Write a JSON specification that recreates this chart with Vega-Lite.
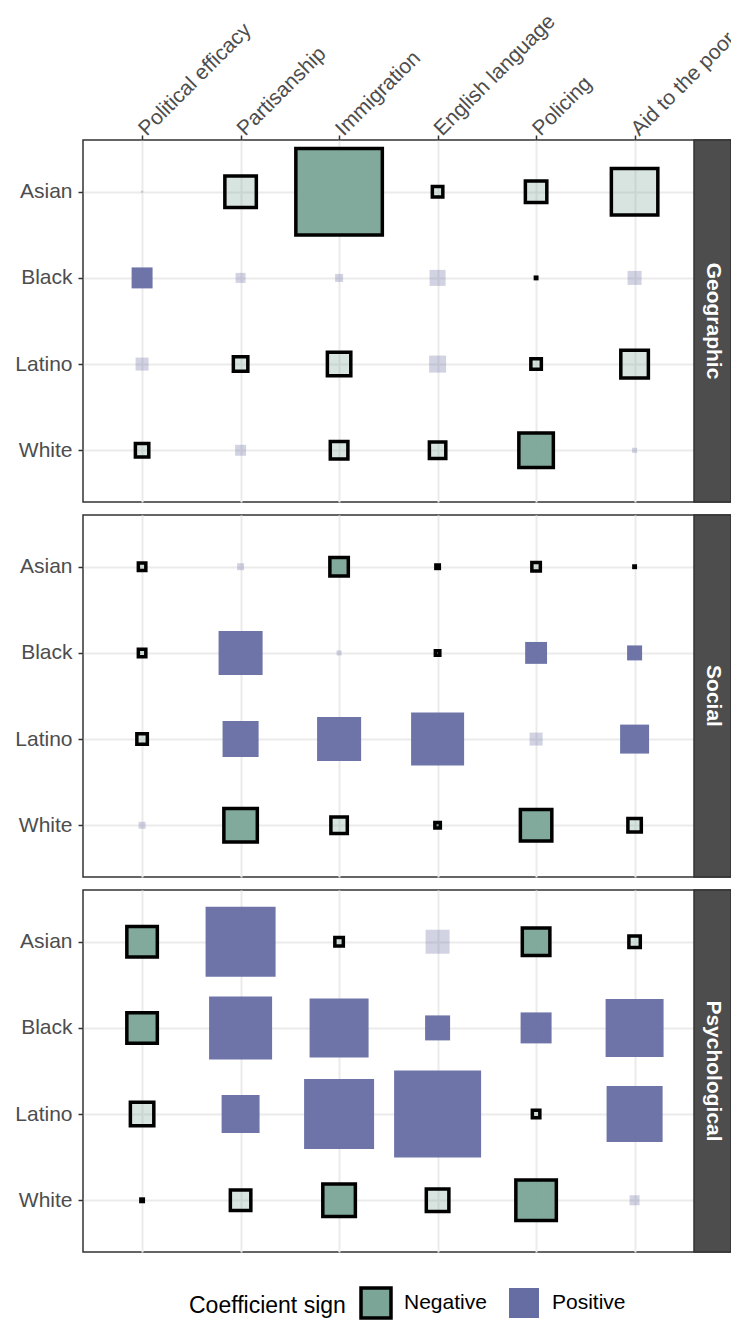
{
  "$schema": "https://vega.github.io/schema/vega-lite/v6.json",
  "padding": {"left": 14, "top": 9, "right": 0, "bottom": 0},
  "background": "white",
  "data": {"values": [
    {"panel":"Geographic","race":"Asian","topic":"Political efficacy","sign":"Positive","sig":"no","m":0.0005},
    {"panel":"Geographic","race":"Asian","topic":"Partisanship","sign":"Negative","sig":"no","m":0.099},
    {"panel":"Geographic","race":"Asian","topic":"Immigration","sign":"Negative","sig":"yes","m":0.748},
    {"panel":"Geographic","race":"Asian","topic":"English language","sign":"Negative","sig":"no","m":0.011},
    {"panel":"Geographic","race":"Asian","topic":"Policing","sign":"Negative","sig":"no","m":0.046},
    {"panel":"Geographic","race":"Asian","topic":"Aid to the poor","sign":"Negative","sig":"no","m":0.216},
    {"panel":"Geographic","race":"Black","topic":"Political efficacy","sign":"Positive","sig":"yes","m":0.044},
    {"panel":"Geographic","race":"Black","topic":"Partisanship","sign":"Positive","sig":"no","m":0.010},
    {"panel":"Geographic","race":"Black","topic":"Immigration","sign":"Positive","sig":"no","m":0.0064},
    {"panel":"Geographic","race":"Black","topic":"English language","sign":"Positive","sig":"no","m":0.0256},
    {"panel":"Geographic","race":"Black","topic":"Policing","sign":"Negative","sig":"yes","m":0.0002},
    {"panel":"Geographic","race":"Black","topic":"Aid to the poor","sign":"Positive","sig":"no","m":0.0196},
    {"panel":"Geographic","race":"Latino","topic":"Political efficacy","sign":"Positive","sig":"no","m":0.0169},
    {"panel":"Geographic","race":"Latino","topic":"Partisanship","sign":"Negative","sig":"no","m":0.021},
    {"panel":"Geographic","race":"Latino","topic":"Immigration","sign":"Negative","sig":"no","m":0.055},
    {"panel":"Geographic","race":"Latino","topic":"English language","sign":"Positive","sig":"no","m":0.029},
    {"panel":"Geographic","race":"Latino","topic":"Policing","sign":"Negative","sig":"no","m":0.011},
    {"panel":"Geographic","race":"Latino","topic":"Aid to the poor","sign":"Negative","sig":"no","m":0.076},
    {"panel":"Geographic","race":"White","topic":"Political efficacy","sign":"Negative","sig":"no","m":0.018},
    {"panel":"Geographic","race":"White","topic":"Partisanship","sign":"Positive","sig":"no","m":0.012},
    {"panel":"Geographic","race":"White","topic":"Immigration","sign":"Negative","sig":"no","m":0.031},
    {"panel":"Geographic","race":"White","topic":"English language","sign":"Negative","sig":"no","m":0.027},
    {"panel":"Geographic","race":"White","topic":"Policing","sign":"Negative","sig":"yes","m":0.119},
    {"panel":"Geographic","race":"White","topic":"Aid to the poor","sign":"Positive","sig":"no","m":0.0025},
    {"panel":"Social","race":"Asian","topic":"Political efficacy","sign":"Negative","sig":"no","m":0.0056},
    {"panel":"Social","race":"Asian","topic":"Partisanship","sign":"Positive","sig":"no","m":0.0049},
    {"panel":"Social","race":"Asian","topic":"Immigration","sign":"Negative","sig":"yes","m":0.034},
    {"panel":"Social","race":"Asian","topic":"English language","sign":"Negative","sig":"yes","m":0.0012},
    {"panel":"Social","race":"Asian","topic":"Policing","sign":"Negative","sig":"no","m":0.0072},
    {"panel":"Social","race":"Asian","topic":"Aid to the poor","sign":"Negative","sig":"yes","m":0.0002},
    {"panel":"Social","race":"Black","topic":"Political efficacy","sign":"Negative","sig":"no","m":0.0056},
    {"panel":"Social","race":"Black","topic":"Partisanship","sign":"Positive","sig":"yes","m":0.194},
    {"panel":"Social","race":"Black","topic":"Immigration","sign":"Positive","sig":"no","m":0.0025},
    {"panel":"Social","race":"Black","topic":"English language","sign":"Negative","sig":"yes","m":0.002},
    {"panel":"Social","race":"Black","topic":"Policing","sign":"Positive","sig":"yes","m":0.048},
    {"panel":"Social","race":"Black","topic":"Aid to the poor","sign":"Positive","sig":"yes","m":0.0225},
    {"panel":"Social","race":"Latino","topic":"Political efficacy","sign":"Negative","sig":"no","m":0.011},
    {"panel":"Social","race":"Latino","topic":"Partisanship","sign":"Positive","sig":"yes","m":0.13},
    {"panel":"Social","race":"Latino","topic":"Immigration","sign":"Positive","sig":"yes","m":0.194},
    {"panel":"Social","race":"Latino","topic":"English language","sign":"Positive","sig":"yes","m":0.281},
    {"panel":"Social","race":"Latino","topic":"Policing","sign":"Positive","sig":"no","m":0.017},
    {"panel":"Social","race":"Latino","topic":"Aid to the poor","sign":"Positive","sig":"yes","m":0.084},
    {"panel":"Social","race":"White","topic":"Political efficacy","sign":"Positive","sig":"no","m":0.0049},
    {"panel":"Social","race":"White","topic":"Partisanship","sign":"Negative","sig":"yes","m":0.112},
    {"panel":"Social","race":"White","topic":"Immigration","sign":"Negative","sig":"no","m":0.027},
    {"panel":"Social","race":"White","topic":"English language","sign":"Negative","sig":"yes","m":0.003},
    {"panel":"Social","race":"White","topic":"Policing","sign":"Negative","sig":"yes","m":0.099},
    {"panel":"Social","race":"White","topic":"Aid to the poor","sign":"Negative","sig":"no","m":0.018},
    {"panel":"Psychological","race":"Asian","topic":"Political efficacy","sign":"Negative","sig":"yes","m":0.093},
    {"panel":"Psychological","race":"Asian","topic":"Partisanship","sign":"Positive","sig":"yes","m":0.49},
    {"panel":"Psychological","race":"Asian","topic":"Immigration","sign":"Negative","sig":"no","m":0.0072},
    {"panel":"Psychological","race":"Asian","topic":"English language","sign":"Positive","sig":"no","m":0.0576},
    {"panel":"Psychological","race":"Asian","topic":"Policing","sign":"Negative","sig":"yes","m":0.076},
    {"panel":"Psychological","race":"Asian","topic":"Aid to the poor","sign":"Negative","sig":"no","m":0.013},
    {"panel":"Psychological","race":"Black","topic":"Political efficacy","sign":"Negative","sig":"yes","m":0.093},
    {"panel":"Psychological","race":"Black","topic":"Partisanship","sign":"Positive","sig":"yes","m":0.397},
    {"panel":"Psychological","race":"Black","topic":"Immigration","sign":"Positive","sig":"yes","m":0.348},
    {"panel":"Psychological","race":"Black","topic":"English language","sign":"Positive","sig":"yes","m":0.0625},
    {"panel":"Psychological","race":"Black","topic":"Policing","sign":"Positive","sig":"yes","m":0.096},
    {"panel":"Psychological","race":"Black","topic":"Aid to the poor","sign":"Positive","sig":"yes","m":0.336},
    {"panel":"Psychological","race":"Latino","topic":"Political efficacy","sign":"Negative","sig":"no","m":0.055},
    {"panel":"Psychological","race":"Latino","topic":"Partisanship","sign":"Positive","sig":"yes","m":0.144},
    {"panel":"Psychological","race":"Latino","topic":"Immigration","sign":"Positive","sig":"yes","m":0.49},
    {"panel":"Psychological","race":"Latino","topic":"English language","sign":"Positive","sig":"yes","m":0.757},
    {"panel":"Psychological","race":"Latino","topic":"Policing","sign":"Negative","sig":"no","m":0.0056},
    {"panel":"Psychological","race":"Latino","topic":"Aid to the poor","sign":"Positive","sig":"yes","m":0.314},
    {"panel":"Psychological","race":"White","topic":"Political efficacy","sign":"Negative","sig":"yes","m":0.0006},
    {"panel":"Psychological","race":"White","topic":"Partisanship","sign":"Negative","sig":"no","m":0.042},
    {"panel":"Psychological","race":"White","topic":"Immigration","sign":"Negative","sig":"yes","m":0.106},
    {"panel":"Psychological","race":"White","topic":"English language","sign":"Negative","sig":"no","m":0.051},
    {"panel":"Psychological","race":"White","topic":"Policing","sign":"Negative","sig":"yes","m":0.164},
    {"panel":"Psychological","race":"White","topic":"Aid to the poor","sign":"Positive","sig":"no","m":0.01}
  ]},
  "spacing": 9,
  "vconcat": [
    {
      "width": 648, "height": 362,
      "transform": [{"filter": "datum.panel === 'Geographic'"}],
      "layer": [
        {
          "mark": {"type": "point", "shape": "square", "filled": true, "opacity": 1, "strokeWidth": 3.5},
          "encoding": {
            "x": {"field": "topic", "type": "nominal",
              "sort": ["Political efficacy", "Partisanship", "Immigration", "English language", "Policing", "Aid to the poor"],
              "scale": {"type": "point", "padding": 0.7893, "align": 0.38},
              "axis": {"orient": "top", "title": null, "labelAngle": -45, "labelAlign": "left", "labelBaseline": "middle", "labelPadding": 3, "grid": true, "domain": false}},
            "y": {"field": "race", "type": "nominal", "sort": ["Asian", "Black", "Latino", "White"],
              "scale": {"type": "point", "padding": 0.6},
              "axis": {"orient": "left", "title": null, "grid": true, "domain": false}},
            "size": {"field": "m", "type": "quantitative", "scale": {"type": "linear", "domain": [0, 1], "range": [0, 10000]}, "legend": null},
            "fill": {"field": "sign", "type": "nominal", "title": "Coefficient sign",
              "scale": {"domain": ["Negative", "Positive"], "range": ["#7AA597", "#666DA3"]}},
            "stroke": {"field": "sign", "type": "nominal", "title": "Coefficient sign",
              "scale": {"domain": ["Negative", "Positive"], "range": ["#000000", "transparent"]}},
            "fillOpacity": {"field": "sig", "type": "nominal", "scale": {"domain": ["yes", "no"], "range": [0.95, 0.3]}, "legend": null}
          }
        },
        {
          "transform": [{"aggregate": [{"op": "count", "as": "n"}], "groupby": ["panel"]}],
          "mark": {"type": "rect", "fill": "#4D4D4D", "stroke": "#333333", "strokeWidth": 1.5},
          "encoding": {
            "x": {"datum": 0.9429, "type": "quantitative", "scale": {"domain": [0, 1]}, "axis": null},
            "x2": {"datum": 1},
            "y": {"datum": 0, "type": "quantitative", "scale": {"domain": [0, 1]}, "axis": null},
            "y2": {"datum": 1}
          }
        },
        {
          "transform": [{"aggregate": [{"op": "count", "as": "n"}], "groupby": ["panel"]}],
          "mark": {"type": "text", "angle": 90, "color": "white", "font": "Liberation Sans", "fontWeight": "bold", "fontSize": 21, "align": "center", "baseline": "middle"},
          "encoding": {
            "x": {"datum": 0.9715, "type": "quantitative", "scale": {"domain": [0, 1]}, "axis": null},
            "y": {"datum": 0.5, "type": "quantitative", "scale": {"domain": [0, 1]}, "axis": null},
            "text": {"field": "panel", "type": "nominal"}
          }
        }
      ],
      "resolve": {"scale": {"x": "independent", "y": "independent"}}
    },
    {
      "width": 648, "height": 362,
      "transform": [{"filter": "datum.panel === 'Social'"}],
      "layer": [
        {
          "mark": {"type": "point", "shape": "square", "filled": true, "opacity": 1, "strokeWidth": 3.5},
          "encoding": {
            "x": {"field": "topic", "type": "nominal",
              "sort": ["Political efficacy", "Partisanship", "Immigration", "English language", "Policing", "Aid to the poor"],
              "scale": {"type": "point", "padding": 0.7893, "align": 0.38},
              "axis": {"orient": "top", "title": null, "labels": false, "ticks": false, "grid": true, "domain": false}},
            "y": {"field": "race", "type": "nominal", "sort": ["Asian", "Black", "Latino", "White"],
              "scale": {"type": "point", "padding": 0.6},
              "axis": {"orient": "left", "title": null, "grid": true, "domain": false}},
            "size": {"field": "m", "type": "quantitative", "scale": {"type": "linear", "domain": [0, 1], "range": [0, 10000]}, "legend": null},
            "fill": {"field": "sign", "type": "nominal", "title": "Coefficient sign",
              "scale": {"domain": ["Negative", "Positive"], "range": ["#7AA597", "#666DA3"]}},
            "stroke": {"field": "sign", "type": "nominal", "title": "Coefficient sign",
              "scale": {"domain": ["Negative", "Positive"], "range": ["#000000", "transparent"]}},
            "fillOpacity": {"field": "sig", "type": "nominal", "scale": {"domain": ["yes", "no"], "range": [0.95, 0.3]}, "legend": null}
          }
        },
        {
          "transform": [{"aggregate": [{"op": "count", "as": "n"}], "groupby": ["panel"]}],
          "mark": {"type": "rect", "fill": "#4D4D4D", "stroke": "#333333", "strokeWidth": 1.5},
          "encoding": {
            "x": {"datum": 0.9429, "type": "quantitative", "scale": {"domain": [0, 1]}, "axis": null},
            "x2": {"datum": 1},
            "y": {"datum": 0, "type": "quantitative", "scale": {"domain": [0, 1]}, "axis": null},
            "y2": {"datum": 1}
          }
        },
        {
          "transform": [{"aggregate": [{"op": "count", "as": "n"}], "groupby": ["panel"]}],
          "mark": {"type": "text", "angle": 90, "color": "white", "font": "Liberation Sans", "fontWeight": "bold", "fontSize": 21, "align": "center", "baseline": "middle"},
          "encoding": {
            "x": {"datum": 0.9715, "type": "quantitative", "scale": {"domain": [0, 1]}, "axis": null},
            "y": {"datum": 0.5, "type": "quantitative", "scale": {"domain": [0, 1]}, "axis": null},
            "text": {"field": "panel", "type": "nominal"}
          }
        }
      ],
      "resolve": {"scale": {"x": "independent", "y": "independent"}}
    },
    {
      "width": 648, "height": 362,
      "transform": [{"filter": "datum.panel === 'Psychological'"}],
      "layer": [
        {
          "mark": {"type": "point", "shape": "square", "filled": true, "opacity": 1, "strokeWidth": 3.5},
          "encoding": {
            "x": {"field": "topic", "type": "nominal",
              "sort": ["Political efficacy", "Partisanship", "Immigration", "English language", "Policing", "Aid to the poor"],
              "scale": {"type": "point", "padding": 0.7893, "align": 0.38},
              "axis": {"orient": "top", "title": null, "labels": false, "ticks": false, "grid": true, "domain": false}},
            "y": {"field": "race", "type": "nominal", "sort": ["Asian", "Black", "Latino", "White"],
              "scale": {"type": "point", "padding": 0.6},
              "axis": {"orient": "left", "title": null, "grid": true, "domain": false}},
            "size": {"field": "m", "type": "quantitative", "scale": {"type": "linear", "domain": [0, 1], "range": [0, 10000]}, "legend": null},
            "fill": {"field": "sign", "type": "nominal", "title": "Coefficient sign",
              "scale": {"domain": ["Negative", "Positive"], "range": ["#7AA597", "#666DA3"]}},
            "stroke": {"field": "sign", "type": "nominal", "title": "Coefficient sign",
              "scale": {"domain": ["Negative", "Positive"], "range": ["#000000", "transparent"]}},
            "fillOpacity": {"field": "sig", "type": "nominal", "scale": {"domain": ["yes", "no"], "range": [0.95, 0.3]}, "legend": null}
          }
        },
        {
          "transform": [{"aggregate": [{"op": "count", "as": "n"}], "groupby": ["panel"]}],
          "mark": {"type": "rect", "fill": "#4D4D4D", "stroke": "#333333", "strokeWidth": 1.5},
          "encoding": {
            "x": {"datum": 0.9429, "type": "quantitative", "scale": {"domain": [0, 1]}, "axis": null},
            "x2": {"datum": 1},
            "y": {"datum": 0, "type": "quantitative", "scale": {"domain": [0, 1]}, "axis": null},
            "y2": {"datum": 1}
          }
        },
        {
          "transform": [{"aggregate": [{"op": "count", "as": "n"}], "groupby": ["panel"]}],
          "mark": {"type": "text", "angle": 90, "color": "white", "font": "Liberation Sans", "fontWeight": "bold", "fontSize": 21, "align": "center", "baseline": "middle"},
          "encoding": {
            "x": {"datum": 0.9715, "type": "quantitative", "scale": {"domain": [0, 1]}, "axis": null},
            "y": {"datum": 0.5, "type": "quantitative", "scale": {"domain": [0, 1]}, "axis": null},
            "text": {"field": "panel", "type": "nominal"}
          }
        }
      ],
      "resolve": {"scale": {"x": "independent", "y": "independent"}}
    }
  ],
  "config": {
    "font": "Liberation Sans",
    "view": {"stroke": "#333333", "strokeWidth": 1.5},
    "axis": {
      "labelFont": "Liberation Sans",
      "labelFontSize": 21,
      "labelColor": "#4D4D4D",
      "tickColor": "#333333",
      "tickSize": 5,
      "tickWidth": 1.5,
      "labelPadding": 6,
      "gridColor": "#EBEBEB",
      "gridWidth": 2
    },
    "legend": {
      "orient": "bottom",
      "direction": "horizontal",
      "titleOrient": "left",
      "titleFont": "Liberation Sans",
      "titleFontSize": 23,
      "titleFontWeight": "normal",
      "titleColor": "black",
      "titleAnchor": "middle",
      "titlePadding": 13,
      "labelFont": "Liberation Sans",
      "labelFontSize": 21,
      "labelColor": "black",
      "labelOffset": 11,
      "columnPadding": 15,
      "symbolType": "square",
      "symbolSize": 900,
      "symbolStrokeWidth": 3.5,
      "symbolOpacity": 1,
      "offset": 32,
      "layout": {"bottom": {"anchor": "middle"}}
    }
  }
}
